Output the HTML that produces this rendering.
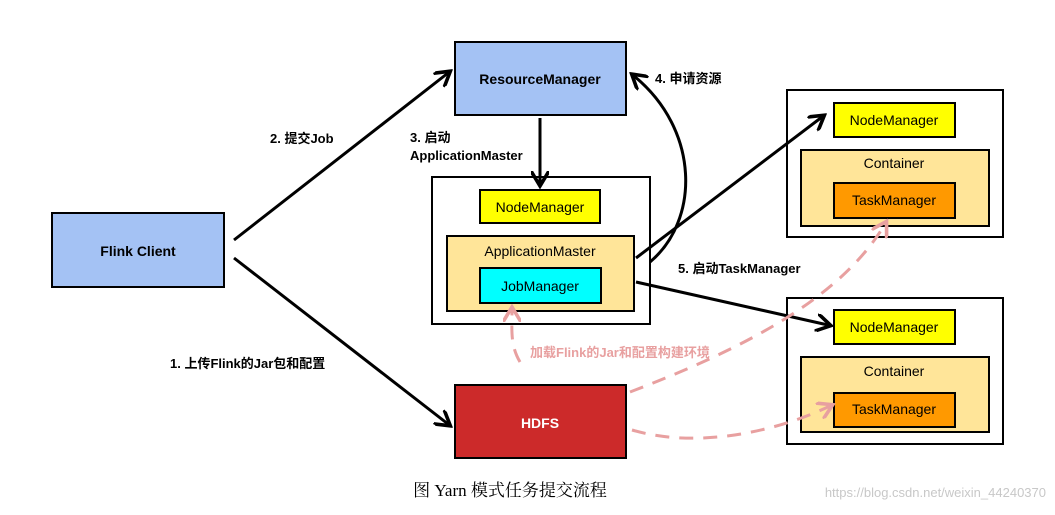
<!DOCTYPE html>
<html><head><meta charset="utf-8"><style>
body{margin:0;background:#fff;width:1055px;height:510px;overflow:hidden}
svg text{font-family:"Liberation Sans","Noto Sans CJK SC",sans-serif}
</style></head><body>
<svg width="1055" height="510" viewBox="0 0 1055 510" xmlns="http://www.w3.org/2000/svg">
<defs>
<marker id="a" markerWidth="6" markerHeight="6" refX="4" refY="3" orient="auto" markerUnits="strokeWidth"><path d="M0,0 L5,3 L0,6" fill="none" stroke="#000" stroke-width="1.2"/></marker>
<marker id="p" markerWidth="6" markerHeight="6" refX="4" refY="3" orient="auto" markerUnits="strokeWidth"><path d="M0,0 L5,3 L0,6" fill="none" stroke="#e8a0a0" stroke-width="1.2"/></marker>
</defs>
<g stroke="#000" stroke-width="2">
<rect x="455" y="42" width="171" height="73" fill="#a4c2f4"/>
<rect x="52" y="213" width="172" height="74" fill="#a4c2f4"/>
<rect x="455" y="385" width="171" height="73" fill="#cc2a2a"/>
<rect x="432" y="177" width="218" height="147" fill="#fff"/>
<rect x="480" y="190" width="120" height="33" fill="#ffff00"/>
<rect x="447" y="236" width="187" height="75" fill="#ffe599"/>
<rect x="480" y="268" width="121" height="35" fill="#00ffff"/>
<rect x="787" y="90" width="216" height="147" fill="#fff"/>
<rect x="834" y="103" width="121" height="34" fill="#ffff00"/>
<rect x="801" y="150" width="188" height="76" fill="#ffe599"/>
<rect x="834" y="183" width="121" height="35" fill="#ff9900"/>
<rect x="787" y="298" width="216" height="146" fill="#fff"/>
<rect x="834" y="310" width="121" height="34" fill="#ffff00"/>
<rect x="801" y="357" width="188" height="75" fill="#ffe599"/>
<rect x="834" y="393" width="121" height="34" fill="#ff9900"/>
</g>
<g stroke="#000" stroke-width="3" fill="none" marker-end="url(#a)">
<path d="M234,240 L448,73"/>
<path d="M234,258 L448,424"/>
<path d="M540,118 L540,183"/>
<path d="M650,262 C700,220 700,130 634,76"/>
<path d="M636,258 L822,117"/>
<path d="M636,282 L828,325"/>
</g>
<g stroke="#e8a0a0" stroke-width="3" fill="none" stroke-dasharray="14,10" marker-end="url(#p)">
<path d="M520,362 C510,345 512,330 512,310"/>
<path d="M630,392 C740,350 840,300 885,224"/>
<path d="M632,430 C700,450 780,430 830,406"/>
</g>
<g font-size="14" text-anchor="middle" fill="#000">
<text x="540" y="84" font-weight="bold">ResourceManager</text>
<text x="138" y="256" font-weight="bold">Flink Client</text>
<text x="540" y="428" font-weight="bold" fill="#fff">HDFS</text>
<text x="540" y="212">NodeManager</text>
<text x="540" y="256">ApplicationMaster</text>
<text x="540" y="291">JobManager</text>
<text x="894" y="125">NodeManager</text>
<text x="894" y="168">Container</text>
<text x="894" y="205">TaskManager</text>
<text x="894" y="332">NodeManager</text>
<text x="894" y="376">Container</text>
<text x="894" y="414">TaskManager</text>
</g>
<g font-size="13" font-weight="bold" fill="#000">
<text x="270" y="143">2. 提交Job</text>
<text x="410" y="142">3. 启动</text>
<text x="410" y="160">ApplicationMaster</text>
<text x="655" y="83">4. 申请资源</text>
<text x="678" y="273">5. 启动TaskManager</text>
<text x="170" y="368">1. 上传Flink的Jar包和配置</text>
<text x="530" y="357" fill="#e8a0a0">加载Flink的Jar和配置构建环境</text>
</g>
<text x="510" y="496" font-size="17" text-anchor="middle" style="font-family:'Liberation Serif','Noto Serif CJK SC',serif">图  Yarn 模式任务提交流程</text>
<text x="1046" y="497" font-size="13" text-anchor="end" fill="#c8c8c8">https://blog.csdn.net/weixin_44240370</text>
</svg>
</body></html>
